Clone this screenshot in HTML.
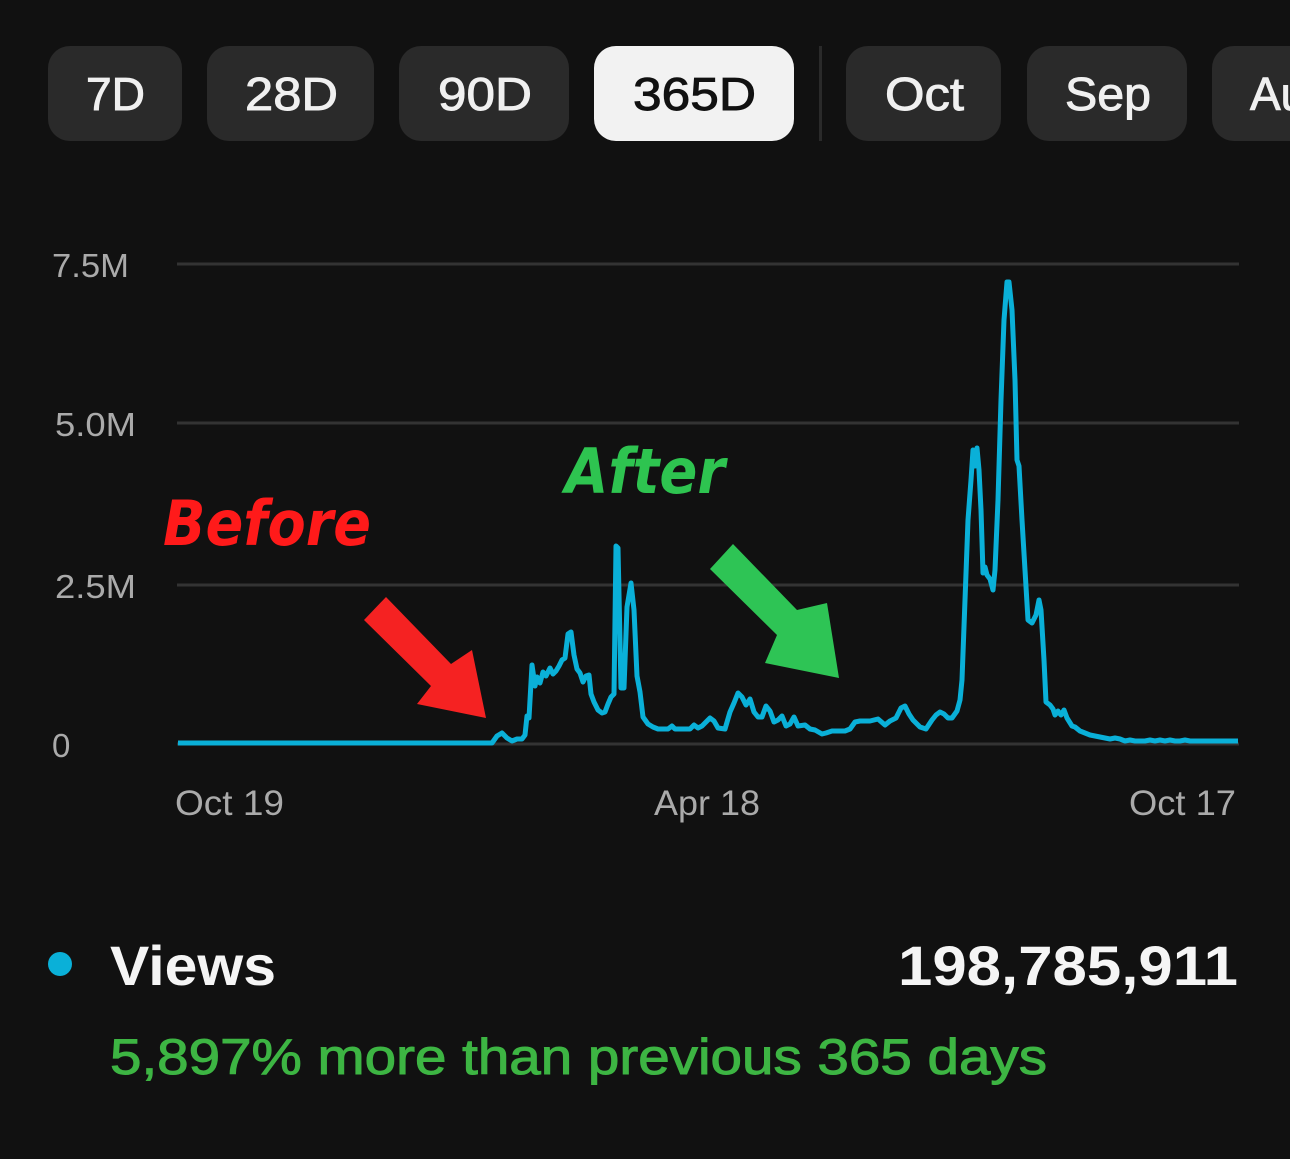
<!DOCTYPE html>
<html><head><style>
body{margin:0;width:1290px;height:1159px;background:#111111;overflow:hidden;font-family:"Liberation Sans",sans-serif;position:relative}
.b{position:absolute;top:46px;height:95px;border-radius:22px;background:#2a2a2a}
</style></head><body>
<div class="b" style="left:48px;width:134px"></div>
<div class="b" style="left:207px;width:167px"></div>
<div class="b" style="left:399px;width:170px"></div>
<div class="b" style="left:594px;width:200px;background:#f2f2f2"></div>
<div style="position:absolute;left:819px;top:46px;width:3px;height:95px;background:#2a2a2a"></div>
<div class="b" style="left:846px;width:155px"></div>
<div class="b" style="left:1027px;width:160px"></div>
<div class="b" style="left:1212px;width:140px"></div>
<svg width="1290" height="1159" style="position:absolute;left:0;top:0" font-family="Liberation Sans">
<g fill="#f0f0f0" stroke="#f0f0f0" stroke-width="0.9" font-size="46">
<text x="86" y="110" textLength="59" lengthAdjust="spacingAndGlyphs">7D</text>
<text x="245" y="110" textLength="93" lengthAdjust="spacingAndGlyphs">28D</text>
<text x="438" y="110" textLength="94" lengthAdjust="spacingAndGlyphs">90D</text>
<text x="633" y="110" textLength="123" lengthAdjust="spacingAndGlyphs" fill="#111" stroke="#111">365D</text>
<text x="885" y="110" textLength="79" lengthAdjust="spacingAndGlyphs">Oct</text>
<text x="1065" y="110" textLength="86" lengthAdjust="spacingAndGlyphs">Sep</text>
<text x="1250" y="110">Au</text>
</g>
<g stroke="#333" stroke-width="3">
<line x1="177" y1="264" x2="1239" y2="264"/><line x1="177" y1="423" x2="1239" y2="423"/>
<line x1="177" y1="585" x2="1239" y2="585"/><line x1="177" y1="744" x2="1239" y2="744"/></g>
<g fill="#aaa" font-size="33">
<text x="52" y="277" textLength="77" lengthAdjust="spacingAndGlyphs">7.5M</text>
<text x="55" y="436" textLength="81" lengthAdjust="spacingAndGlyphs">5.0M</text>
<text x="55" y="598" textLength="81" lengthAdjust="spacingAndGlyphs">2.5M</text>
<text x="52" y="757">0</text></g>
<g fill="#aaa" font-size="35">
<text x="175" y="815" textLength="109" lengthAdjust="spacingAndGlyphs">Oct 19</text>
<text x="654" y="815" textLength="106" lengthAdjust="spacingAndGlyphs">Apr 18</text>
<text x="1129" y="815" textLength="107" lengthAdjust="spacingAndGlyphs">Oct 17</text></g>
<polyline fill="none" stroke="#0ab0d8" stroke-width="5" stroke-linejoin="round" points="178,743 492,743 497,736 502,733 507,738 512,741 517,739 522,739 525,735 527,716 529,718 532,665 535,686 537,677 540,683 543,672 546,676 550,668 553,674 556,671 559,666 562,660 565,658 568,634 571,632 574,655 577,669 580,673 583,682 586,676 589,675 591,694 594,702 598,710 602,713 605,712 608,704 611,697 614,694 616,546 618,548 621,688 624,688 627,607 631,583 634,610 637,676 640,692 643,717 648,724 653,727 658,729 668,729 672,726 675,729 690,729 694,725 698,728 702,726 706,722 710,718 714,721 718,728 725,729 730,712 734,703 738,693 742,697 746,705 750,699 754,712 758,717 762,717 766,706 770,711 774,722 778,720 782,716 786,726 790,724 794,717 798,726 805,725 810,729 815,730 822,734 826,733 832,731 845,731 850,729 855,722 860,721 870,721 878,719 885,725 890,721 896,718 901,708 905,706 909,714 913,720 920,727 926,729 932,720 936,715 940,712 944,714 948,718 952,718 957,711 960,700 962,680 965,600 968,520 971,480 973,450 975,466 977,448 979,470 981,510 983,573 985,567 987,575 990,579 993,590 995,570 998,500 1001,400 1004,320 1007,282 1009,282 1012,310 1015,380 1017,460 1019,466 1022,520 1025,570 1028,620 1032,623 1036,615 1039,600 1041,610 1044,660 1046,702 1050,705 1053,709 1055,715 1058,711 1061,715 1064,710 1067,718 1072,726 1075,727 1080,731 1085,733 1090,735 1095,736 1100,737 1105,738 1110,739 1115,738 1120,739 1125,741 1130,740 1135,741 1140,741 1145,741 1150,740 1155,741 1160,740 1165,741 1170,740 1175,741 1180,741 1185,740 1190,741 1238,741"/>
<polygon fill="#f52222" points="364,620 386,597 451,664 472,650 486,718 417,704 431,686"/>
<polygon fill="#2ec455" points="710,569 733,544 797,610 827,603 839,678 765,663 777,635"/>
<text x="163" y="545" fill="#ff1a1a" font-size="62" font-weight="bold" font-style="italic" font-family="DejaVu Sans" textLength="208" lengthAdjust="spacingAndGlyphs">Before</text>
<text x="565" y="493" fill="#2ec450" font-size="62" font-weight="bold" font-style="italic" font-family="DejaVu Sans" textLength="160" lengthAdjust="spacingAndGlyphs">After</text>
<circle cx="60" cy="964" r="12" fill="#0ab0d8"/>
<text x="110" y="985" fill="#f5f5f5" font-size="56" font-weight="bold" textLength="166" lengthAdjust="spacingAndGlyphs">Views</text>
<text x="898" y="985" fill="#f5f5f5" font-size="56" font-weight="bold" textLength="340" lengthAdjust="spacingAndGlyphs">198,785,911</text>
<text x="110" y="1074" fill="#3db543" stroke="#3db543" stroke-width="1" font-size="50" textLength="937" lengthAdjust="spacingAndGlyphs">5,897% more than previous 365 days</text>
</svg>
</body></html>
